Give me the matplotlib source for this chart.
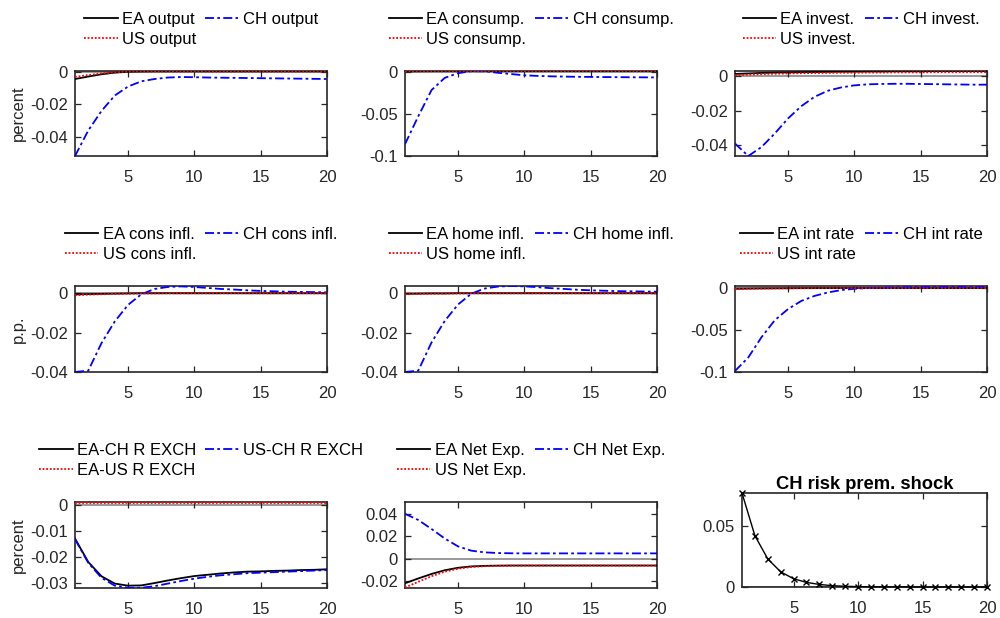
import matplotlib
matplotlib.use('Agg')
import matplotlib.pyplot as plt
from matplotlib.ticker import FixedLocator, FuncFormatter

plt.rcParams['font.family'] = ['Liberation Sans', 'DejaVu Sans']
plt.rcParams['axes.unicode_minus'] = False

# ---------------- data ----------------
periods = list(range(1, 21))
xticks = [5, 10, 15, 20]

# Output
ea_output = [-0.0045, -0.0030, -0.0016, -0.0006, -0.0001, 0.0001, 0.0002, 0.0002, 0.0002, 0.0002,
             0.0002, 0.0002, 0.0002, 0.0002, 0.0002, 0.0002, 0.0002, 0.0002, 0.0002, 0.0002]
ch_output = [-0.0516, -0.0360, -0.0240, -0.0146, -0.0091, -0.0059, -0.0045, -0.0036, -0.0033, -0.0034,
             -0.0036, -0.0037, -0.0038, -0.0039, -0.0040, -0.0041, -0.0042, -0.0043, -0.0044, -0.0045]
us_output = [-0.0032, -0.0021, -0.0011, -0.0004, 0.0000, 0.0001, 0.0001, 0.0001, 0.0001, 0.0001,
             0.0001, 0.0001, 0.0001, 0.0001, 0.0001, 0.0001, 0.0001, 0.0001, 0.0001, 0.0001]

# Consumption
ea_cons = [0.0002, 0.0003, 0.0004, 0.0004, 0.0004, 0.0005, 0.0005, 0.0005, 0.0005, 0.0005,
           0.0005, 0.0005, 0.0005, 0.0005, 0.0005, 0.0005, 0.0005, 0.0005, 0.0005, 0.0005]
ch_cons = [-0.0860, -0.0530, -0.0220, -0.0075, -0.0020, 0.0004, 0.0003, -0.0015, -0.0030, -0.0045,
           -0.0052, -0.0057, -0.0060, -0.0063, -0.0064, -0.0066, -0.0067, -0.0068, -0.0069, -0.0070]
us_cons = [0.0001, 0.0002, 0.0003, 0.0003, 0.0003, 0.0004, 0.0004, 0.0004, 0.0004, 0.0004,
           0.0004, 0.0004, 0.0004, 0.0004, 0.0004, 0.0004, 0.0004, 0.0004, 0.0004, 0.0004]

# Investment
ea_inv = [0.0012, 0.0015, 0.0018, 0.0020, 0.0021, 0.0022, 0.0023, 0.0024, 0.0025, 0.0025,
          0.0026, 0.0026, 0.0027, 0.0027, 0.0027, 0.0028, 0.0028, 0.0028, 0.0028, 0.0028]
ch_inv = [-0.0390, -0.0462, -0.0410, -0.0332, -0.0245, -0.0174, -0.0120, -0.0085, -0.0066, -0.0054,
          -0.0048, -0.0046, -0.0045, -0.0045, -0.0046, -0.0047, -0.0048, -0.0049, -0.0050, -0.0050]
us_inv = [0.0005, 0.0008, 0.0011, 0.0013, 0.0015, 0.0016, 0.0017, 0.0018, 0.0019, 0.0019,
          0.0020, 0.0020, 0.0021, 0.0021, 0.0021, 0.0022, 0.0022, 0.0022, 0.0022, 0.0022]

# Consumer inflation
ea_cinfl = [-0.0006, -0.0004, -0.0003, -0.0002, -0.0001, 0.0000, 0.0000, 0.0000, 0.0000, 0.0000,
            0.0000, 0.0000, 0.0000, 0.0000, 0.0000, 0.0000, 0.0000, 0.0000, 0.0000, 0.0000]
ch_cinfl = [-0.0400, -0.0393, -0.0253, -0.0143, -0.0059, -0.0005, 0.0022, 0.0032, 0.0035, 0.0032,
            0.0027, 0.0022, 0.0019, 0.0015, 0.0012, 0.0010, 0.0008, 0.0007, 0.0006, 0.0005]
us_cinfl = [-0.0010, -0.0007, -0.0005, -0.0003, -0.0002, -0.0001, -0.0001, 0.0000, 0.0000, 0.0000,
            0.0000, 0.0000, 0.0000, 0.0000, 0.0000, 0.0000, 0.0000, 0.0000, 0.0000, 0.0000]

# Home inflation
ea_hinfl = [-0.0003, -0.0002, -0.0001, -0.0001, 0.0000, 0.0000, 0.0000, 0.0000, 0.0000, 0.0000,
            0.0000, 0.0000, 0.0000, 0.0000, 0.0000, 0.0000, 0.0000, 0.0000, 0.0000, 0.0000]
ch_hinfl = [-0.0400, -0.0393, -0.0250, -0.0140, -0.0057, -0.0002, 0.0024, 0.0034, 0.0037, 0.0035,
            0.0031, 0.0026, 0.0022, 0.0018, 0.0015, 0.0013, 0.0011, 0.0010, 0.0009, 0.0008]
us_hinfl = [-0.0005, -0.0003, -0.0002, -0.0001, -0.0001, 0.0000, 0.0000, 0.0000, 0.0000, 0.0000,
            0.0000, 0.0000, 0.0000, 0.0000, 0.0000, 0.0000, 0.0000, 0.0000, 0.0000, 0.0000]

# Interest rate
ea_rate = [-0.0008, -0.0006, -0.0004, -0.0003, -0.0002, -0.0001, 0.0000, 0.0000, 0.0000, 0.0000,
           0.0000, 0.0000, 0.0000, 0.0000, 0.0000, 0.0000, 0.0000, 0.0000, 0.0000, 0.0000]
ch_rate = [-0.0988, -0.0827, -0.0585, -0.0383, -0.0250, -0.0153, -0.0093, -0.0052, -0.0024, -0.0008,
           0.0000, 0.0005, 0.0008, 0.0010, 0.0011, 0.0012, 0.0012, 0.0012, 0.0012, 0.0012]
us_rate = [-0.0010, -0.0007, -0.0005, -0.0003, -0.0002, -0.0001, -0.0001, 0.0000, 0.0000, 0.0000,
           0.0000, 0.0000, 0.0000, 0.0000, 0.0000, 0.0000, 0.0000, 0.0000, 0.0000, 0.0000]

# Real exchange rates
ea_ch_rer = [-0.0129, -0.0219, -0.0274, -0.0302, -0.0310, -0.0309, -0.0300, -0.0290, -0.0281, -0.0273,
             -0.0268, -0.0263, -0.0259, -0.0256, -0.0255, -0.0253, -0.0252, -0.0250, -0.0249, -0.0247]
us_ch_rer = [-0.0131, -0.0222, -0.0280, -0.0310, -0.0318, -0.0318, -0.0312, -0.0302, -0.0292, -0.0283,
             -0.0276, -0.0270, -0.0266, -0.0262, -0.0260, -0.0258, -0.0256, -0.0254, -0.0252, -0.0250]
ea_us_rer = [0.0008, 0.0008, 0.0008, 0.0008, 0.0008, 0.0008, 0.0008, 0.0008, 0.0008, 0.0008,
             0.0008, 0.0008, 0.0008, 0.0008, 0.0008, 0.0008, 0.0008, 0.0008, 0.0008, 0.0008]

# Net exports
ea_nx = [-0.0218, -0.0175, -0.0135, -0.0102, -0.0080, -0.0068, -0.0063, -0.0061, -0.0060, -0.0060,
         -0.0060, -0.0060, -0.0060, -0.0060, -0.0060, -0.0060, -0.0060, -0.0060, -0.0060, -0.0060]
ch_nx = [0.0400, 0.0345, 0.0265, 0.0180, 0.0110, 0.0072, 0.0057, 0.0051, 0.0049, 0.0048,
         0.0048, 0.0048, 0.0048, 0.0048, 0.0048, 0.0048, 0.0048, 0.0048, 0.0048, 0.0048]
us_nx = [-0.0256, -0.0205, -0.0155, -0.0115, -0.0088, -0.0073, -0.0066, -0.0063, -0.0062, -0.0061,
         -0.0061, -0.0061, -0.0061, -0.0061, -0.0061, -0.0061, -0.0061, -0.0061, -0.0061, -0.0061]

# Shock
shock = [0.0775, 0.0423, 0.0231, 0.0125, 0.0068, 0.0038, 0.0021, 0.0011, 0.0006, 0.0003,
         0.0002, 0.0001, 0.0001, 0.0000, 0.0000, 0.0000, 0.0000, 0.0000, 0.0000, 0.0000]

panels = [
    (ea_output, ch_output, us_output, ['EA output', 'CH output', 'US output'], 'percent',
     [-0.04, -0.02, 0], (-0.0516, 0.0004)),
    (ea_cons, ch_cons, us_cons, ['EA consump.', 'CH consump.', 'US consump.'], None,
     [-0.1, -0.05, 0], (-0.1, 0.0006)),
    (ea_inv, ch_inv, us_inv, ['EA invest.', 'CH invest.', 'US invest.'], None,
     [-0.04, -0.02, 0], (-0.0462, 0.0029)),
    (ea_cinfl, ch_cinfl, us_cinfl, ['EA cons infl.', 'CH cons infl.', 'US cons infl.'], 'p.p.',
     [-0.04, -0.02, 0], (-0.04, 0.0037)),
    (ea_hinfl, ch_hinfl, us_hinfl, ['EA home infl.', 'CH home infl.', 'US home infl.'], None,
     [-0.04, -0.02, 0], (-0.04, 0.0037)),
    (ea_rate, ch_rate, us_rate, ['EA int rate', 'CH int rate', 'US int rate'], None,
     [-0.1, -0.05, 0], (-0.1, 0.0025)),
    (ea_ch_rer, us_ch_rer, ea_us_rer, ['EA-CH R EXCH', 'US-CH R EXCH', 'EA-US R EXCH'], 'percent',
     [-0.03, -0.02, -0.01, 0], (-0.0319, 0.0012)),
    (ea_nx, ch_nx, us_nx, ['EA Net Exp.', 'CH Net Exp.', 'US Net Exp.'], None,
     [-0.02, 0, 0.02, 0.04], (-0.026, 0.0505)),
]
shock_title = 'CH risk prem. shock'
shock_yticks = [0, 0.05]
shock_ylim = (0, 0.0775)

# ---------------- layout ----------------
W, H = 1000, 618
fig = plt.figure(figsize=(W / 100, H / 100), dpi=100)
col_left = [75, 405, 735]
row_top = [71, 286, 502]
ax_w, ax_h = 252, 86

AX_COL = '#262626'
FS = 12


def px_axes(left, top, w, h):
    return fig.add_axes([left / W, 1 - (top + h) / H, w / W, h / H])


def style(ax, yticks, ylim):
    ax.set_xlim(1, 20)
    ax.set_ylim(*ylim)
    ax.xaxis.set_major_locator(FixedLocator(xticks))
    ax.yaxis.set_major_locator(FixedLocator(yticks))
    ax.yaxis.set_major_formatter(FuncFormatter(lambda v, p: '%g' % v))
    ax.xaxis.set_major_formatter(FuncFormatter(lambda v, p: '%g' % v))
    ax.tick_params(axis='both', direction='in', top=True, right=True, length=4, width=0.9,
                   color=AX_COL, labelcolor=AX_COL, labelsize=FS)
    ax.tick_params(axis='x', pad=10)
    ax.tick_params(axis='y', pad=5)
    for s in ax.spines.values():
        s.set_color(AX_COL)
        s.set_linewidth(1.2)


dashdot = (0, (5, 1.8, 1.5, 1.8))
dotted = (0, (1, 1.0))

for i, (a, b, c, labels, ylab, yt, yl) in enumerate(panels):
    r, k = divmod(i, 3)
    ax = px_axes(col_left[k], row_top[r], ax_w, ax_h if r else 85)
    ax.axhline(0, color=(0.6, 0.6, 0.6), lw=1.4, zorder=1)
    h1, = ax.plot(periods, a, color='black', lw=1.3, zorder=3)
    h2, = ax.plot(periods, b, color=(0, 0, 1), lw=1.3, linestyle=dashdot, zorder=3)
    h3, = ax.plot(periods, c, color=(1, 0, 0), lw=1.3, linestyle=dotted, zorder=4)
    style(ax, yt, yl)
    if ylab:
        ax.set_ylabel(ylab, fontsize=FS, color=AX_COL, labelpad=3)
    ax.legend([h1, h3, h2], [labels[0], labels[2], labels[1]], ncol=2, loc='lower center',
              bbox_to_anchor=(0.5, 1.28), frameon=False, fontsize=FS, handlelength=2.0,
              handletextpad=0.25, columnspacing=0.55, labelspacing=0.3, borderpad=0,
              borderaxespad=0)

ax9 = px_axes(742, 493, 245, 94)
ax9.axhline(0, color=(0.6, 0.6, 0.6), lw=1.4, zorder=1)
ax9.plot(periods, shock, color='black', lw=1.0, marker='x', markersize=4.5, markeredgewidth=1.0,
         zorder=3, clip_on=False)
style(ax9, shock_yticks, shock_ylim)
ax9.set_title(shock_title, fontsize=13.2, fontweight='bold', pad=3)

fig.savefig('out.png', dpi=100)
